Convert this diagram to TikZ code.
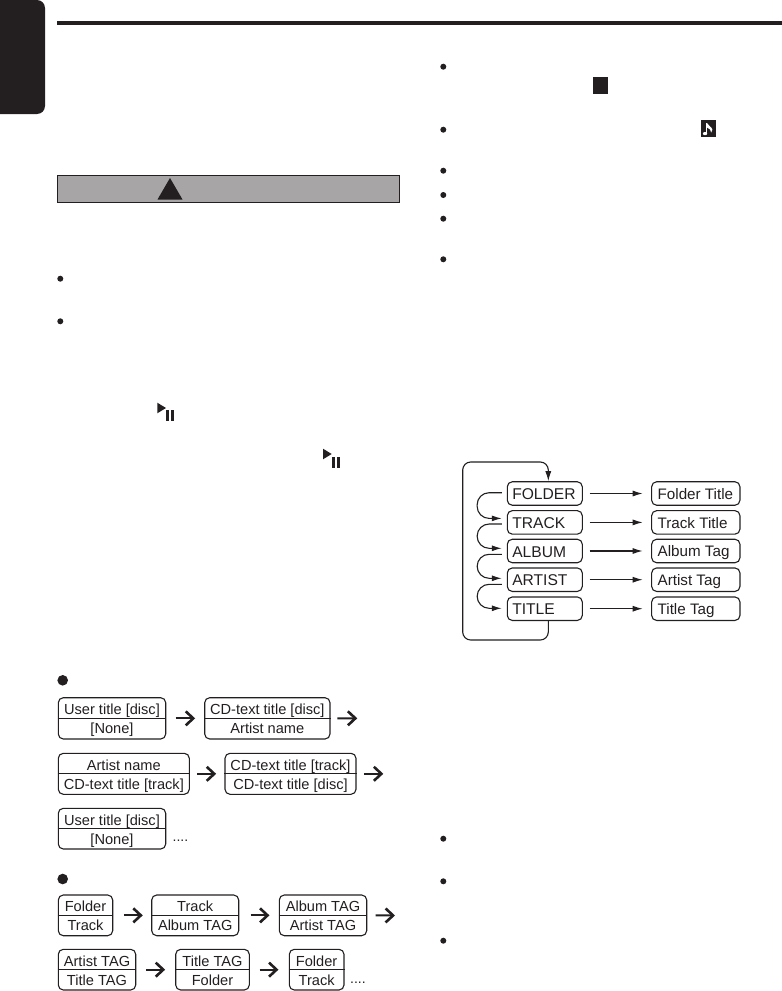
\documentclass[tikz,border=0pt]{standalone}
\usepackage{fontspec}
\setmainfont{Liberation Sans}
\usetikzlibrary{arrows.meta}
\definecolor{ink}{HTML}{231F20}
\definecolor{barfill}{HTML}{A7A5A6}
\tikzset{
  x=1pt,y=-1pt,
  boxline/.style={draw=ink,line width=1.1pt,rounded corners=5pt,inner sep=0pt},
  boxtext/.style={text=ink,font=\fontsize{14.6}{16}\selectfont,inner sep=0pt,anchor=base},
  chev/.style={draw=ink,line width=2pt,-{Straight Barb[length=7.5pt,width=14pt,line width=2.6pt]}},
  flowline/.style={draw=ink,line width=1.1pt,-{Latex[length=10pt,width=6pt]}},
  loopline/.style={flowline,rounded corners=12pt},
  bigloop/.style={flowline,rounded corners=8pt},
  modebox/.style={boxline,minimum height=23.5pt,minimum width=75pt,inner xsep=5pt,text width=65pt,align=left,
     text=ink,text height=15.2pt,text depth=3pt,font=\fontsize{15.6}{17}\selectfont},
  titlebox/.style={boxline,minimum height=23.5pt,minimum width=88.3pt,inner xsep=6pt,text width=76.3pt,
     align=flush left,text=ink,text height=14.6pt,text depth=3pt,font=\fontsize{15.2}{17}\selectfont},
  dots/.style={text=ink,font=\fontsize{14}{16}\selectfont,inner sep=0pt,anchor=base west}
}
% name, x1, y1, x2, y2, top text, bottom text
\newcommand{\twobox}[7]{%
  \pgfmathsetmacro{\bxc}{(#2+#4)/2}\pgfmathsetmacro{\byc}{(#3+#5)/2}%
  \pgfmathsetmacro{\bxw}{#4-#2}\pgfmathsetmacro{\byh}{#5-#3}%
  \node[boxline,minimum width=\bxw pt,minimum height=\byh pt] (#1) at (\bxc,\byc) {};
  \draw[draw=ink,line width=1.1pt] (#1.west) -- (#1.east);
  \node[boxtext] (#1t) at ([yshift=3.6pt]#1.center) {#6};
  \node[boxtext] (#1b) at ([yshift=-15.6pt]#1.center) {#7};
}
\begin{document}
\begin{tikzpicture}
\useasboundingbox (0,0) rectangle (782,991);
% side tab and header rule
\fill[ink] (0,0) -- (37,0) .. controls (41.4,0) and (45,3.6) .. (45,8) -- (45,106) .. controls (45,110.4) and (41.4,114) .. (37,114) -- (0,114) -- cycle;
\fill[ink] (57,21) rectangle (782,25);
% warning bar
\draw[draw=ink,fill=barfill,line width=0.9pt] (57.5,175.7) rectangle (399.5,202.3);
\fill[ink] (170,178) -- (182.5,199.5) -- (157.5,199.5) -- cycle;
% bullets, left
\foreach \yy in {278.7,321.3}{\fill[ink] (60.3,\yy) circle[radius=3];}
% bullets, right
\foreach \yy in {66.7,129.7,170.7,195,218.7,259.3,838.7,881.3,940.7}{\fill[ink] (443.3,\yy) circle[radius=3];}
% stop and note icons
\fill[ink] (593,77) rectangle (608.3,94);
\fill[ink] (701,120) rectangle (716,136.7);
\fill[white] (705,133.6) ellipse[x radius=2.2,y radius=1.6];
\fill[white] (706.1,123) rectangle (707,133.4);
\fill[white] (707,123) .. controls (708,126) and (712,127) .. (712.4,129.6) .. controls (712.6,131) and (711.8,132) .. (711.2,132.6) .. controls (711.6,130) and (709,128.5) .. (707,127.5) -- cycle;
% play/pause icons
\fill[ink] (157.3,402.7) -- (166,408) -- (157.3,413.3) -- cycle;
\fill[ink] (166,410) rectangle (169.3,421);
\fill[ink] (170.8,410) rectangle (174.2,421);
\fill[ink] (323,448.7) -- (331.7,454) -- (323,459.3) -- cycle;
\fill[ink] (332,456.5) rectangle (335.3,468);
\fill[ink] (336.8,456.5) rectangle (340,468);

% mode diagram
\node[modebox] (folder) at (544.8,493.5) {FOLDER};
\node[modebox] (track) at (544.8,522.4) {TRACK};
\node[modebox] (album) at (544.8,551) {ALBUM};
\node[modebox] (artist) at (544.8,579.7) {ARTIST};
\node[modebox] (titlem) at (544.8,608.7) {TITLE};
\node[titlebox] (ftitle) at (695.8,493.5) {Folder Title};
\node[titlebox] (ttitle) at (695.8,522.4) {Track Title};
\node[titlebox] (atag) at (695.8,551) {Album Tag};
\node[titlebox] (rtag) at (695.8,579.7) {Artist Tag};
\node[titlebox] (ttag) at (695.8,608.7) {Title Tag};
\foreach \a/\b in {folder/ftitle,track/ttitle,album/atag,artist/rtag,titlem/ttag}{
  \draw[flowline,shorten <=6.7pt,shorten >=8.4pt] (\a) -- (\b);
}
\draw[loopline] ([xshift=-5pt,yshift=0.8pt]folder.west) -- ++(-24.6,0) |- ([xshift=-5pt,yshift=4pt]track.west);
\draw[loopline] ([xshift=-5pt,yshift=-1.6pt]track.west) -- ++(-24.6,0) |- ([xshift=-5pt,yshift=2.7pt]album.west);
\draw[loopline] ([xshift=-5pt,yshift=-3.3pt]album.west) -- ++(-24.6,0) |- ([xshift=-5pt,yshift=1.4pt]artist.west);
\draw[loopline] ([xshift=-5pt,yshift=-4.6pt]artist.west) -- ++(-24.6,0) |- ([xshift=-5pt,yshift=0.4pt]titlem.west);
\draw[bigloop] ([xshift=3.5pt]titlem.south) |- (462.7,640) -- (462.7,462) -| ([xshift=3.5pt]folder.north);

% CD-text sequence
\fill[ink] (62.7,680.3) circle[radius=5.3];
\twobox{a}{58.3}{697.7}{165.7}{739}{User title [disc]}{[None]}
\twobox{b}{204.7}{697.7}{330}{739}{CD-text title [disc]}{Artist name}
\coordinate (bend) at (357.3,718.3);
\twobox{c}{58.3}{753.3}{189.3}{794.3}{Artist name}{CD-text title [track]}
\twobox{d}{225}{753.3}{356}{794.3}{CD-text title [track]}{CD-text title [disc]}
\coordinate (dend) at (383.3,773.8);
\twobox{e}{58.3}{808.3}{165.7}{849}{User title [disc]}{[None]}
\node[dots] (edots) at (172.5,841.5) {....};
\draw[chev,shorten <=9.3pt,shorten >=9pt] (a.east) -- (b.west);
\draw[chev,shorten <=6.7pt] (b.east) -- (bend);
\draw[chev,shorten <=7.4pt,shorten >=8.3pt] (c.east) -- (d.west);
\draw[chev,shorten <=7.3pt] (d.east) -- (dend);

% MP3 sequence
\fill[ink] (62.7,879) circle[radius=5.3];
\twobox{f}{58.3}{895}{112.7}{935.7}{Folder}{Track}
\twobox{g}{151.7}{895}{238.7}{935.7}{Track}{Album TAG}
\twobox{h}{279.3}{895}{366.7}{935.7}{Album TAG}{Artist TAG}
\coordinate (hend) at (395,915.5);
\twobox{i}{58.3}{949.3}{135.7}{990}{Artist TAG}{Title TAG}
\twobox{j}{175.7}{949.3}{249.3}{990}{Title TAG}{Folder}
\twobox{k}{289.3}{949.3}{344}{990}{Folder}{Track}
\node[dots] (kdots) at (350,983.2) {....};
\draw[chev,shorten <=10.6pt,shorten >=8.4pt] (f.east) -- (g.west);
\draw[chev,shorten <=11.3pt,shorten >=9.3pt] (g.east) -- (h.west);
\draw[chev,shorten <=8.3pt] (h.east) -- (hend);
\draw[chev,shorten <=10pt,shorten >=10pt] (i.east) -- (j.west);
\draw[chev,shorten <=9.7pt,shorten >=10.3pt] (j.east) -- (k.west);
\end{tikzpicture}
\end{document}
